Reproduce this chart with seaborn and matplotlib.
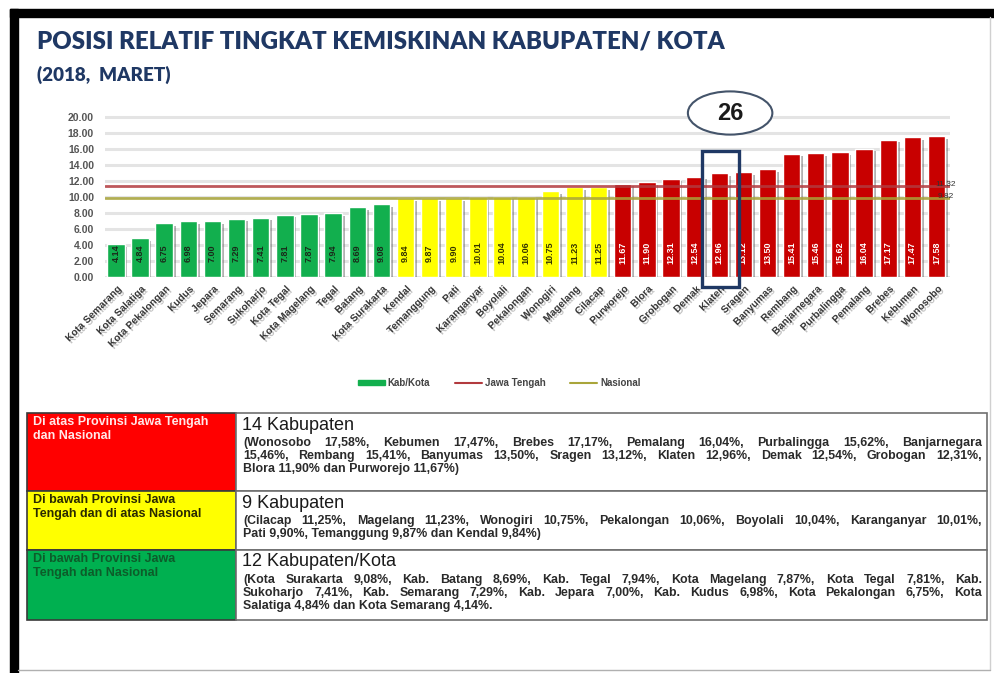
import numpy as np
import pandas as pd
import matplotlib
matplotlib.use('Agg')
import matplotlib.pyplot as plt
import matplotlib.patheffects as pe
from matplotlib.patches import Rectangle, Ellipse, Patch
from matplotlib.lines import Line2D
import seaborn as sns

# data (persen penduduk miskin, Maret 2018)
wilayah_hijau = ['Kota Semarang', 'Kota Salatiga', 'Kota Pekalongan', 'Kudus', 'Jepara',
                 'Semarang', 'Sukoharjo', 'Kota Tegal', 'Kota Magelang', 'Tegal', 'Batang',
                 'Kota Surakarta']
persen_hijau = [4.14, 4.84, 6.75, 6.98, 7.00, 7.29, 7.41, 7.81, 7.87, 7.94, 8.69, 9.08]

wilayah_kuning = ['Kendal', 'Temanggung', 'Pati', 'Karanganyar', 'Boyolali', 'Pekalongan',
                  'Wonogiri', 'Magelang', 'Cilacap']
persen_kuning = [9.84, 9.87, 9.90, 10.01, 10.04, 10.06, 10.75, 11.23, 11.25]

wilayah_merah = ['Purworejo', 'Blora', 'Grobogan', 'Demak', 'Klaten', 'Sragen', 'Banyumas',
                 'Rembang', 'Banjarnegara', 'Purbalingga', 'Pemalang', 'Brebes', 'Kebumen',
                 'Wonosobo']
persen_merah = [11.67, 11.90, 12.31, 12.54, 12.96, 13.12, 13.50, 15.41, 15.46, 15.62, 16.04,
                17.17, 17.47, 17.58]

jawa_tengah = 11.32
nasional = 9.82
sorot = 'Klaten'

kelompok_judul = ['Di atas Provinsi Jawa Tengah\ndan Nasional',
                  'Di bawah Provinsi Jawa\nTengah dan di atas Nasional',
                  'Di bawah Provinsi Jawa\nTengah dan Nasional']
kelompok_kepala = ['14 Kabupaten', '9 Kabupaten', '12 Kabupaten/Kota']
kelompok_isi = [
    ['(Wonosobo 17,58%, Kebumen 17,47%, Brebes 17,17%, Pemalang 16,04%, Purbalingga 15,62%, Banjarnegara',
     '15,46%, Rembang 15,41%, Banyumas 13,50%, Sragen 13,12%, Klaten 12,96%, Demak 12,54%, Grobogan 12,31%,',
     'Blora 11,90% dan Purworejo 11,67%)'],
    ['(Cilacap 11,25%, Magelang 11,23%, Wonogiri 10,75%, Pekalongan 10,06%, Boyolali 10,04%, Karanganyar 10,01%,',
     'Pati 9,90%, Temanggung 9,87% dan Kendal 9,84%)'],
    ['(Kota Surakarta 9,08%, Kab. Batang 8,69%, Kab. Tegal 7,94%, Kota Magelang 7,87%, Kota Tegal 7,81%, Kab.',
     'Sukoharjo 7,41%, Kab. Semarang 7,29%, Kab. Jepara 7,00%, Kab. Kudus 6,98%, Kota Pekalongan 6,75%, Kota',
     'Salatiga 4,84% dan Kota Semarang 4,14%.'],
]

df = pd.DataFrame({
    'wilayah': wilayah_hijau + wilayah_kuning + wilayah_merah,
    'persen': persen_hijau + persen_kuning + persen_merah,
    'kelompok': ['hijau'] * len(wilayah_hijau) + ['kuning'] * len(wilayah_kuning)
                + ['merah'] * len(wilayah_merah),
})
warna = {'hijau': '#12AF4E', 'kuning': '#FFFF00', 'merah': '#C80000'}
warna_teks = {'hijau': '#1a2a1a', 'kuning': '#333300', 'merah': 'white'}
c_jateng = '#B23A3E'
c_nas = '#A9A53A'
navy = '#1F3864'

sns.set_style('white')
plt.rcParams['font.family'] = ['Liberation Sans', 'DejaVu Sans']

W, H = 994, 673
fig = plt.figure(figsize=(W / 100, H / 100), dpi=100)

# background layer in pixel coordinates (frame, titles, table)
bg = fig.add_axes([0, 0, 1, 1], zorder=0)
bg.set_xlim(0, W)
bg.set_ylim(H, 0)
bg.axis('off')

bg.add_patch(Rectangle((10, 9), W - 10, 8, color='black'))
bg.add_patch(Rectangle((10, 9), 8, H - 9, color='black'))
bg.plot([990, 990], [17, 670], color='#d0d0d0', lw=1)
bg.plot([18, 990], [670, 670], color='#b0b0b0', lw=1)

bg.text(37, 41, 'POSISI RELATIF TINGKAT KEMISKINAN KABUPATEN/ KOTA', fontsize=17.3,
        fontweight='heavy', color=navy, family='Lato', va='center', ha='left')
bg.text(37, 75, '(2018,  MARET)', fontsize=13.5, fontweight='heavy', color=navy,
        family='Lato', va='center', ha='left')

# main bar chart
y_top = 20.3
ax = fig.add_axes([105 / W, 1 - 277 / H, 845 / W, y_top * 8 / H], zorder=2)
ax.patch.set_visible(False)
sns.barplot(data=df, x='wilayah', y='persen', hue='kelompok', palette=warna, dodge=False,
            width=0.72, saturation=1, legend=False, ax=ax, zorder=3)
for bar in ax.patches:
    bar.set_path_effects([pe.SimplePatchShadow(offset=(2, -2), shadow_rgbFace='#555555', alpha=0.45),
                          pe.Normal()])

ax.set_ylim(0, y_top)
ax.set_xlim(-0.45, len(df) - 0.44)
ax.set_yticks(np.arange(0, 21, 2))
ax.set_yticklabels([f'{v:.2f}' for v in np.arange(0, 21, 2)], fontsize=7.5,
                   fontweight='bold', color='#555555')
ax.yaxis.grid(True, color='#e4e4e4', lw=2.2)
ax.set_axisbelow(True)
sns.despine(ax=ax, left=True, bottom=True)
ax.tick_params(length=0, pad=8)
ax.set_xlabel('')
ax.set_ylabel('')
ax.set_xticks(range(len(df)))
ax.set_xticklabels(df['wilayah'], rotation=45, ha='right', rotation_mode='anchor',
                   fontsize=7.3, fontweight='bold', color='#3a3a3a')
ax.tick_params(axis='x', pad=5)
for lab in ax.get_xticklabels():
    lab.set_path_effects([pe.withSimplePatchShadow(offset=(1.5, -1.5), shadow_rgbFace='#888888', alpha=0.5)])

ax.axhline(jawa_tengah, color=c_jateng, lw=2, alpha=0.85, zorder=4)
ax.axhline(nasional, color=c_nas, lw=2, alpha=0.85, zorder=4)
ax.text(len(df) - 0.62, jawa_tengah + 0.3, f'{jawa_tengah:.2f}', fontsize=6, color='#333333',
        ha='center', va='center', zorder=5)
ax.text(len(df) - 0.62, nasional + 0.2, f'{nasional:.2f}', fontsize=6, color='#333333',
        ha='center', va='center', zorder=5)

for i, (p, k) in enumerate(zip(df['persen'], df['kelompok'])):
    ax.text(i, 3.0, f'{p:.2f}', rotation=90, ha='center', va='center', fontsize=6.5,
            fontweight='bold', color=warna_teks[k], zorder=5)

# highlight box + rank bubble
idx = int(np.where(df['wilayah'] == sorot)[0][0])
peringkat = idx + 1
ax.add_patch(Rectangle((idx - 0.72, -1.25), 1.55, 17.0, fill=False, ec=navy, lw=2.4,
                       clip_on=False, zorder=6))
ax.add_patch(Ellipse((idx + 0.45, 20.5), 3.5, 5.4, fc='white', ec='#44546A', lw=1.5,
                     clip_on=False, zorder=6))
ax.text(idx + 0.45, 20.5, str(peringkat), fontsize=17, fontweight='bold', color='#1a1a1a',
        ha='center', va='center', zorder=7)

# legend
handles = [Patch(color=warna['hijau']), Line2D([], [], color=c_jateng, lw=1.5),
           Line2D([], [], color=c_nas, lw=1.5)]
leg = fig.legend(handles, ['Kab/Kota', 'Jawa Tengah', 'Nasional'], loc='center',
                 bbox_to_anchor=(499 / W, 1 - 383 / H), ncol=3, frameon=False,
                 handlelength=2.8, handleheight=0.5, columnspacing=2.5, handletextpad=0.3,
                 prop={'size': 7, 'weight': 'bold'})
for t in leg.get_texts():
    t.set_color('#444444')

# table below the chart
rows = [(413, 491), (491, 550), (550, 620)]
isi_warna = ['#FF0000', '#FFFF00', '#00B050']
judul_warna = ['#ffe8e8', '#2a2a00', '#0d5c2a']
x_l, x_m, x_r = 27, 236, 987
renderer = fig.canvas.get_renderer()


def justify(lines, x0, x1, y, dy, **kw):
    for i, line in enumerate(lines):
        yy = y + i * dy
        words = line.split()
        if i == len(lines) - 1:
            bg.text(x0, yy, line, ha='left', va='center', **kw)
            continue
        ts = [bg.text(0, yy, w, ha='left', va='center', **kw) for w in words]
        widths = [t.get_window_extent(renderer).width for t in ts]
        gap = (x1 - x0 - sum(widths)) / (len(words) - 1)
        x = x0
        for t, w in zip(ts, widths):
            t.set_x(x)
            x += w + gap


for (y0, y1), fc, tc, judul, kepala, isi in zip(rows, isi_warna, judul_warna, kelompok_judul,
                                                 kelompok_kepala, kelompok_isi):
    bg.add_patch(Rectangle((x_l, y0), x_m - x_l, y1 - y0, fc=fc, ec='#3a3a3a', lw=1.2))
    bg.add_patch(Rectangle((x_m, y0), x_r - x_m, y1 - y0, fc='white', ec='#6f6f6f', lw=1.2))
    bg.text(x_l + 6, y0 + 3, judul, fontsize=9, fontweight='bold', color=tc, ha='left',
            va='top', linespacing=1.25)
    bg.text(x_m + 6, y0 + 12, kepala, fontsize=13, color='#1a1a1a', ha='left', va='center')
    justify(isi, x_m + 7, x_r - 5, y0 + 30, 13, fontsize=8.9, fontweight='bold', color='#2a2a2a')

fig.savefig('out.png', dpi=100)
